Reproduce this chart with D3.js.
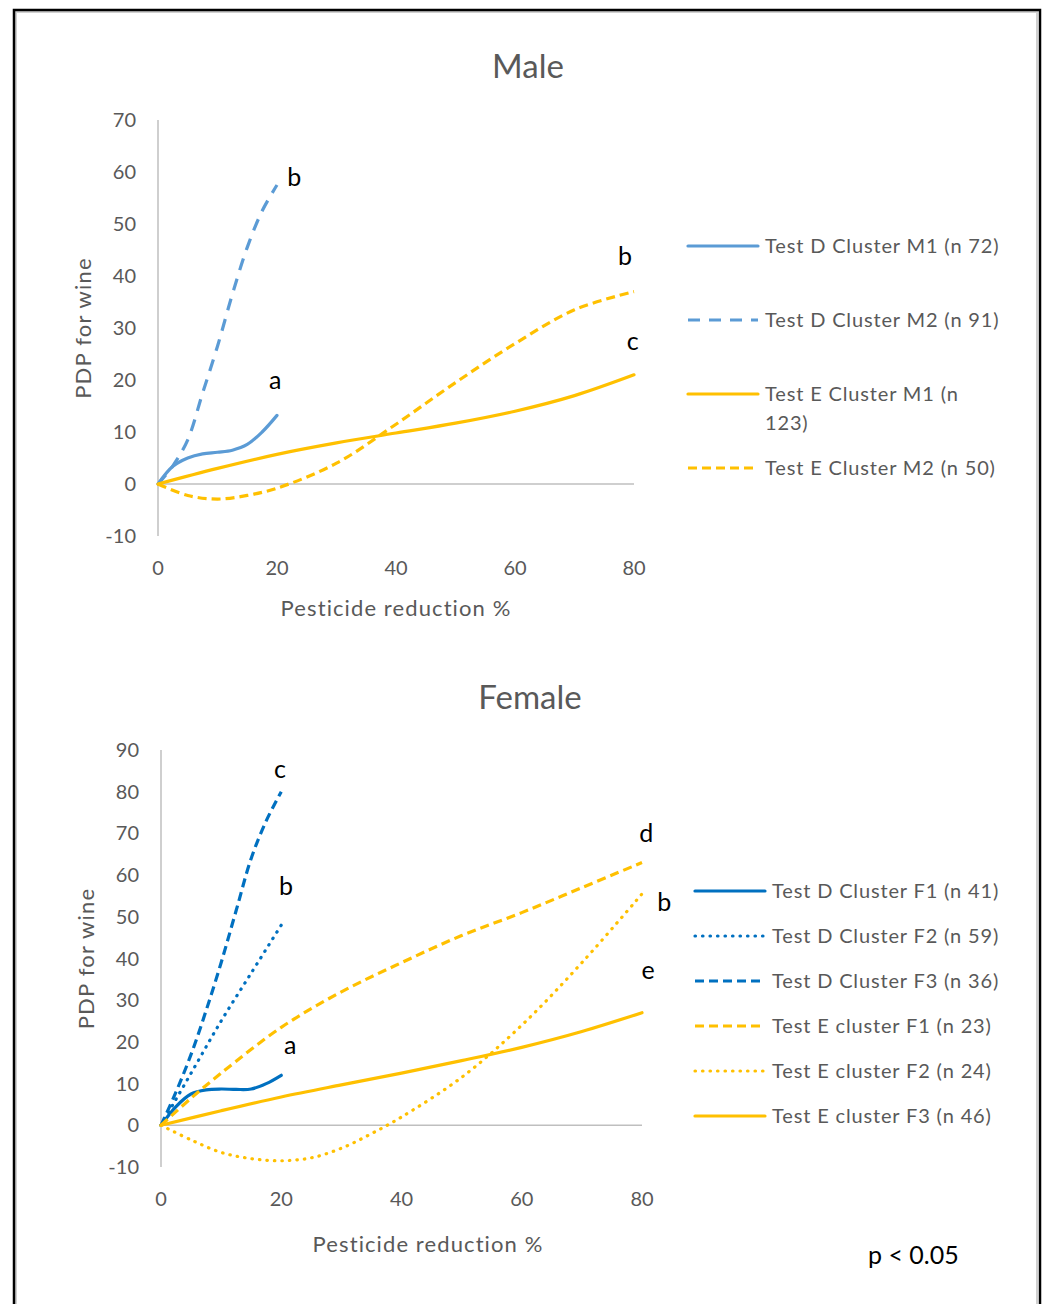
<!DOCTYPE html>
<html>
<head>
<meta charset="utf-8">
<script src="https://cdn.jsdelivr.net/npm/d3@7"></script>
<style>
  body { margin: 0; background: #fff; }
  svg { display: block; font-family: Lato, "Noto Sans", sans-serif; }
</style>
</head>
<body>
<div id="chart"></div>
<script>
// ---- data ----
const xTicks = [0, 20, 40, 60, 80];
const maleYTicks = [-10, 0, 10, 20, 30, 40, 50, 60, 70];
const femaleYTicks = [-10, 0, 10, 20, 30, 40, 50, 60, 70, 80, 90];

// [pesticide reduction %, PDP]
const maleDM1 = [[0, 0], [2.5, 3.4], [5, 5], [7.5, 5.8], [10, 6.1], [12.5, 6.5], [15, 7.6], [17.5, 10], [20, 13.2]];
const maleDM2 = [[0, 0], [2.5, 3.5], [5, 8.5], [7.5, 17.5], [10, 26.5], [12.5, 36.5], [15, 45.5], [17.5, 52.5], [20, 57.5]];
const maleEM1 = [[0, 0], [10, 3], [20, 5.7], [30, 7.9], [40, 9.8], [50, 11.7], [60, 14], [70, 17], [80, 21]];
const maleEM2 = [[0, 0], [5, -2.2], [10, -2.9], [15, -2.2], [20, -0.8], [30, 4], [40, 11.5], [50, 19.5], [60, 27], [70, 33.5], [80, 37]];

const femaleDF1 = [[0, 0], [2.5, 4.5], [5, 7.5], [7.5, 8.5], [10, 8.7], [12.5, 8.6], [15, 8.7], [17.5, 10], [20, 12]];
const femaleDF2 = [[0, 0], [5, 12.5], [10, 25], [15, 36.5], [20, 48]];
const femaleDF3 = [[0, 0], [2.5, 8], [5, 17], [7.5, 27.5], [10, 39], [12.5, 51.5], [15, 64], [17.5, 73], [20, 80]];
const femaleEF1 = [[0, 0], [5, 6.5], [10, 12.5], [20, 23.5], [30, 32], [40, 39], [50, 45.5], [60, 51], [70, 57], [80, 63]];
const femaleEF2 = [[0, 0], [5, -3.5], [10, -6.5], [15, -8], [20, -8.5], [25, -7.8], [30, -5.5], [35, -2], [40, 2], [50, 11.5], [60, 24], [70, 39], [80, 55.5]];
const femaleEF3 = [[0, 0], [10, 3.5], [20, 6.8], [30, 9.7], [40, 12.5], [50, 15.5], [60, 18.7], [70, 22.5], [80, 27]];

const maleLabels = ["Test D Cluster M1 (n 72)", "Test D Cluster M2 (n 91)", "Test E Cluster M1 (n 123)", "Test E Cluster M2 (n 50)"];
const femaleLabels = ["Test D Cluster F1 (n 41)", "Test D Cluster F2 (n 59)", "Test D Cluster F3 (n 36)",
                      "Test E cluster F1 (n 23)", "Test E cluster F2 (n 24)", "Test E cluster F3 (n 46)"];

// significance letters [x, y, letter]
const maleLetters = [[22.9, 59, "b"], [19.7, 20, "a"], [78.5, 43.8, "b"], [79.8, 27.5, "c"]];
const femaleLetters = [[19.8, 85.4, "c"], [20.8, 57.3, "b"], [21.5, 19.2, "a"], [80.7, 70, "d"], [83.7, 53.5, "b"], [81, 37.2, "e"]];

// ---- drawing ----
const W = 1047, H = 1304;
const grey = "#595959";
const lightBlue = "#5B9BD5", blue = "#0070C0", gold = "#FFC000";
const styles = {
  solid: { dash: null, cap: "round" },
  longDash: { dash: "12,9", cap: "butt" },
  dash: { dash: "9,5", cap: "butt" },
  dot: { dash: "0.5,7", cap: "round" }
};

const svg = d3.select("#chart").append("svg")
  .attr("width", W)
  .attr("height", H);

svg.append("rect").attr("width", W).attr("height", H).attr("fill", "#fff");

// outer frame
svg.append("rect")
  .attr("x", 16).attr("y", 12).attr("width", 1021).attr("height", 1310)
  .attr("fill", "none").attr("stroke", "#d0d0d0").attr("stroke-width", 2);
svg.append("rect")
  .attr("x", 14).attr("y", 10).attr("width", 1026).attr("height", 1320)
  .attr("fill", "none").attr("stroke", "#000").attr("stroke-width", 2.5);

function drawPanel(cfg) {
  const x = d3.scaleLinear().domain([0, 80]).range(cfg.xRange);
  const y = d3.scaleLinear().domain(cfg.yDomain).range(cfg.yRange);
  const g = svg.append("g");

  g.append("text")
    .attr("x", cfg.titleX).attr("y", cfg.titleY)
    .attr("text-anchor", "middle")
    .attr("font-size", 33).attr("fill", grey)
    .text(cfg.title);

  // axes (Excel style: plain grey lines, no tick marks)
  g.append("line")
    .attr("x1", x(0)).attr("x2", x(0))
    .attr("y1", y(cfg.yDomain[1])).attr("y2", y(cfg.yDomain[0]))
    .attr("stroke", "#bfbfbf").attr("stroke-width", 1.5);
  g.append("line")
    .attr("x1", x(0)).attr("x2", x(80))
    .attr("y1", y(0)).attr("y2", y(0))
    .attr("stroke", "#bfbfbf").attr("stroke-width", 1.5);

  g.selectAll(".ytick").data(cfg.yTicks).enter().append("text")
    .attr("x", x(0) - 22).attr("y", d => y(d))
    .attr("dy", "0.35em")
    .attr("text-anchor", "end")
    .attr("font-size", 20).attr("fill", grey)
    .text(d => d);

  g.selectAll(".xtick").data(xTicks).enter().append("text")
    .attr("x", d => x(d)).attr("y", y(cfg.yDomain[0]) + 32)
    .attr("dy", "0.35em")
    .attr("text-anchor", "middle")
    .attr("font-size", 20).attr("fill", grey)
    .text(d => d);

  g.append("text")
    .attr("transform", `translate(${cfg.yTitleX}, ${(y(cfg.yDomain[0]) + y(cfg.yDomain[1])) / 2}) rotate(-90)`)
    .attr("text-anchor", "middle").attr("dy", "0.35em")
    .attr("font-size", 22).attr("fill", grey)
    .attr("letter-spacing", 1.2)
    .text("PDP for wine");

  g.append("text")
    .attr("x", cfg.xTitleX).attr("y", y(cfg.yDomain[0]) + cfg.xTitleDy)
    .attr("text-anchor", "middle").attr("dy", "0.35em")
    .attr("font-size", 22).attr("fill", grey)
    .attr("letter-spacing", 1.1)
    .text("Pesticide reduction %");

  const line = d3.line()
    .x(d => x(d[0]))
    .y(d => y(d[1]))
    .curve(d3.curveCatmullRom.alpha(0.5));

  cfg.series.forEach(s => {
    const st = styles[s.style];
    g.append("path")
      .datum(s.data)
      .attr("d", line)
      .attr("fill", "none")
      .attr("stroke", s.color)
      .attr("stroke-width", 3.2)
      .attr("stroke-linecap", st.cap)
      .attr("stroke-dasharray", st.dash);
  });

  g.selectAll(".letter").data(cfg.letters).enter().append("text")
    .attr("x", d => x(d[0])).attr("y", d => y(d[1]))
    .attr("dy", "0.35em")
    .attr("text-anchor", "middle")
    .attr("font-size", 25).attr("fill", "#000")
    .text(d => d[2]);

  // legend
  const leg = g.append("g");
  cfg.series.forEach((s, i) => {
    const st = styles[s.style];
    const ly = cfg.legendY + i * cfg.legendStep;
    leg.append("line")
      .attr("x1", cfg.legendX).attr("x2", cfg.legendX + 70)
      .attr("y1", ly).attr("y2", ly)
      .attr("stroke", s.color).attr("stroke-width", 3.2)
      .attr("stroke-linecap", st.cap)
      .attr("stroke-dasharray", st.dash);
    const t = leg.append("text")
      .attr("x", cfg.legendX + 77).attr("y", ly)
      .attr("dy", "0.35em")
      .attr("font-size", 20).attr("fill", grey)
      .attr("letter-spacing", 0.85)
      .text(s.label);
    // wrap long labels the way Excel does
    if (t.node().getComputedTextLength() > cfg.legendMaxW) {
      const words = s.label.split(" ");
      const last = words.pop();
      t.text(null);
      t.append("tspan").attr("x", cfg.legendX + 77).text(words.join(" "));
      t.append("tspan").attr("x", cfg.legendX + 77).attr("dy", "1.45em").text(last);
    }
  });
}

drawPanel({
  title: "Male", titleX: 528, titleY: 78,
  xRange: [158, 634], yDomain: [-10, 70], yRange: [536, 120], yTicks: maleYTicks,
  yTitleX: 83, xTitleX: 396, xTitleDy: 72,
  legendX: 688, legendY: 246, legendStep: 74, legendMaxW: 238,
  letters: maleLetters,
  series: [
    { data: maleDM1, color: lightBlue, style: "solid", label: maleLabels[0] },
    { data: maleDM2, color: lightBlue, style: "longDash", label: maleLabels[1] },
    { data: maleEM1, color: gold, style: "solid", label: maleLabels[2] },
    { data: maleEM2, color: gold, style: "dash", label: maleLabels[3] }
  ]
});

drawPanel({
  title: "Female", titleX: 530, titleY: 709,
  xRange: [161, 642], yDomain: [-10, 90], yRange: [1167, 750], yTicks: femaleYTicks,
  yTitleX: 86, xTitleX: 428, xTitleDy: 77,
  legendX: 695, legendY: 891, legendStep: 45, legendMaxW: 260,
  letters: femaleLetters,
  series: [
    { data: femaleDF1, color: blue, style: "solid", label: femaleLabels[0] },
    { data: femaleDF2, color: blue, style: "dot", label: femaleLabels[1] },
    { data: femaleDF3, color: blue, style: "dash", label: femaleLabels[2] },
    { data: femaleEF1, color: gold, style: "dash", label: femaleLabels[3] },
    { data: femaleEF2, color: gold, style: "dot", label: femaleLabels[4] },
    { data: femaleEF3, color: gold, style: "solid", label: femaleLabels[5] }
  ]
});

svg.append("text")
  .attr("x", 868).attr("y", 1255)
  .attr("dy", "0.35em")
  .attr("font-size", 25).attr("fill", "#000")
  .text("p < 0.05");
</script>
</body>
</html>
